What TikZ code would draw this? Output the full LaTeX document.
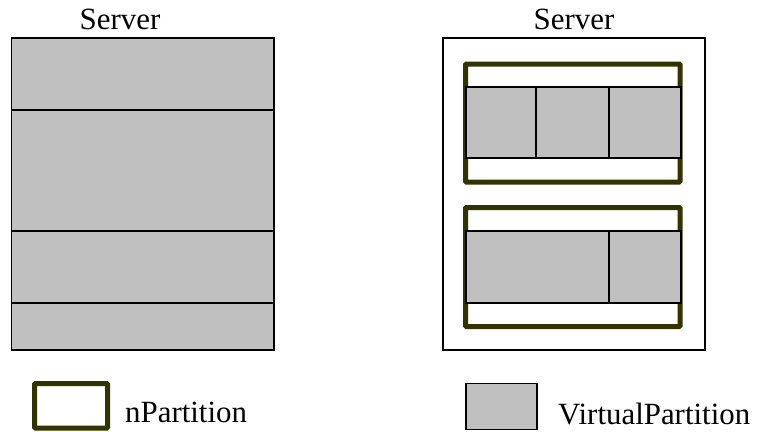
\documentclass[tikz,border=0pt]{standalone}
\usepackage{fontspec}
\setmainfont{Liberation Serif}
\definecolor{npartcol}{RGB}{51,51,0}
\definecolor{vpartcol}{RGB}{192,192,192}
\tikzset{
  vpart/.style={draw,fill=vpartcol,line width=1.6bp},
  npart/.style={draw=npartcol,line width=5bp,rounded corners=1bp},
  txt/.style={font=\fontsize{31}{36}\selectfont,inner sep=0pt}
}
\begin{document}
\begin{tikzpicture}[x=1bp,y=-1bp]
        \useasboundingbox (0,0) rectangle (759,431);
        % titles
        \draw (120,29) node[txt,anchor=base](srvA){Server};
        \draw (574,29) node[txt,anchor=base](srvB){Server};
        % server split into virtual partitions only
        \draw[vpart] (11.5,38) rectangle (274,110);
        \draw[vpart] (11.5,110) rectangle (274,231);
        \draw[vpart] (11.5,231) rectangle (274,303);
        \draw[vpart] (11.5,303) rectangle (274,350);
        % server with two nPartitions
        \draw[line width=1.4bp] (443,38) rectangle (705,350);
        \draw[npart] (465.5,64) rectangle (680,182);
        \draw[vpart] (466,87) rectangle (536,158);
        \draw[vpart] (536,87) rectangle (609,158);
        \draw[vpart] (609,87) rectangle (681,158);
        \draw[npart] (465.5,207.5) rectangle (680,326.5);
        \draw[vpart] (466,231) rectangle (609,303);
        \draw[vpart] (609,231) rectangle (681,303);
        % legend
        \draw[npart] (34.5,383.5) rectangle (107.5,428);
        \draw (125,422) node[txt,anchor=base west](keyN){nPartition};
        \draw[vpart] (466,383.5) rectangle (537,429.5);
        \draw (558,424) node[txt,anchor=base west](keyV){VirtualPartition};
      \end{tikzpicture}
\end{document}
